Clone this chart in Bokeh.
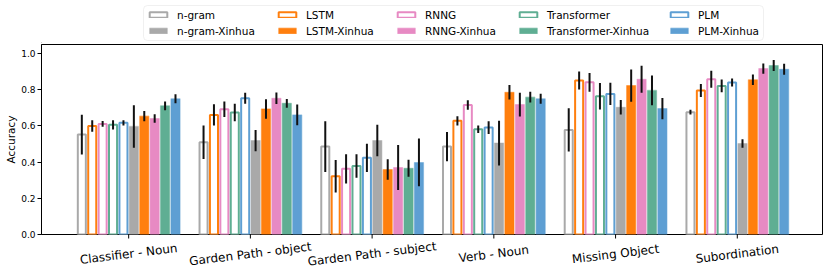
from bokeh.plotting import figure
from bokeh.models import (Range1d, FixedTicker, Legend, LegendItem,
                          ColumnDataSource, BoxAnnotation)
from bokeh.layouts import column
from bokeh.core.properties import value
from bokeh.embed import file_html
from bokeh.resources import INLINE

categories = ["Classifier - Noun", "Garden Path - object", "Garden Path - subject",
              "Verb - Noun", "Missing Object", "Subordination"]

ngram = [0.552, 0.510, 0.486, 0.486, 0.578, 0.676]
ngram_err = [0.110, 0.093, 0.140, 0.081, 0.120, 0.013]
lstm = [0.600, 0.661, 0.322, 0.628, 0.851, 0.796]
lstm_err = [0.032, 0.059, 0.090, 0.026, 0.050, 0.036]
rnng = [0.611, 0.692, 0.363, 0.716, 0.841, 0.858]
rnng_err = [0.016, 0.043, 0.081, 0.026, 0.052, 0.047]
transformer = [0.606, 0.674, 0.379, 0.582, 0.764, 0.821]
transformer_err = [0.026, 0.048, 0.065, 0.021, 0.073, 0.035]
plm = [0.617, 0.753, 0.424, 0.591, 0.777, 0.840]
plm_err = [0.015, 0.031, 0.078, 0.035, 0.061, 0.022]
ngram_xinhua = [0.597, 0.519, 0.519, 0.505, 0.703, 0.503]
ngram_xinhua_err = [0.117, 0.059, 0.087, 0.124, 0.040, 0.023]
lstm_xinhua = [0.654, 0.694, 0.359, 0.786, 0.823, 0.855]
lstm_xinhua_err = [0.028, 0.054, 0.057, 0.040, 0.089, 0.029]
rnng_xinhua = [0.641, 0.753, 0.370, 0.718, 0.858, 0.917]
rnng_xinhua_err = [0.023, 0.032, 0.124, 0.066, 0.075, 0.028]
transformer_xinhua = [0.711, 0.725, 0.366, 0.759, 0.796, 0.934]
transformer_xinhua_err = [0.024, 0.024, 0.047, 0.030, 0.082, 0.031]
plm_xinhua = [0.750, 0.661, 0.398, 0.750, 0.696, 0.913]
plm_xinhua_err = [0.025, 0.057, 0.132, 0.028, 0.059, 0.030]

y_ticks = [0.0, 0.2, 0.4, 0.6, 0.8, 1.0]
y_tick_labels = ["0.0", "0.2", "0.4", "0.6", "0.8", "1.0"]

GRAY = "#a9a9a9"
ORANGE = "#ff7f0e"
PINK = "#e78ac3"
GREEN = "#5fae93"
BLUE = "#5e9fd3"

series = [
    ("n-gram", ngram, ngram_err, GRAY, False),
    ("LSTM", lstm, lstm_err, ORANGE, False),
    ("RNNG", rnng, rnng_err, PINK, False),
    ("Transformer", transformer, transformer_err, GREEN, False),
    ("PLM", plm, plm_err, BLUE, False),
    ("n-gram-Xinhua", ngram_xinhua, ngram_xinhua_err, GRAY, True),
    ("LSTM-Xinhua", lstm_xinhua, lstm_xinhua_err, ORANGE, True),
    ("RNNG-Xinhua", rnng_xinhua, rnng_xinhua_err, PINK, True),
    ("Transformer-Xinhua", transformer_xinhua, transformer_xinhua_err, GREEN, True),
    ("PLM-Xinhua", plm_xinhua, plm_xinhua_err, BLUE, True),
]

FONT = "DejaVu Sans"
W = 830
LEFT, RIGHT = 41, 8
slot = 0.0855
n = len(series)
group_idx = list(range(len(categories)))
xr = Range1d(-0.716, 5.70)


def bar_style(color, filled):
    if filled:
        return dict(fill_color=color, line_color=color, line_alpha=0.45, line_width=1.2)
    return dict(fill_color="white", line_color=color, line_width=2)


# ---------------- main plot ----------------
m = figure(width=W, height=196, output_backend="svg", toolbar_location=None,
           x_range=xr, y_range=Range1d(0, 1.05), x_axis_location=None,
           min_border_left=LEFT, min_border_right=RIGHT, min_border_top=1,
           min_border_bottom=5)
m.background_fill_color = "white"
m.border_fill_color = "white"
m.outline_line_color = "black"
m.outline_line_width = 1
m.outline_line_alpha = 1
for g in m.grid:
    g.visible = False

for i, (name, vals, errs, color, filled) in enumerate(series):
    off = (i - (n - 1) / 2) * slot
    xs = [float(g + off) for g in group_idx]
    lo = [float(v - e) for v, e in zip(vals, errs)]
    hi = [float(v + e) for v, e in zip(vals, errs)]
    src = ColumnDataSource(dict(x=xs, top=list(vals), lo=lo, hi=hi))
    width = 0.075 if filled else 0.066
    m.vbar(x="x", top="top", width=width, source=src, **bar_style(color, filled))
    m.segment(x0="x", y0="lo", x1="x", y1="hi", source=src, line_color="#111111",
              line_width=2)

m.yaxis.ticker = FixedTicker(ticks=y_ticks)
m.yaxis.major_label_overrides = {t: l for t, l in zip(y_ticks, y_tick_labels)}
m.yaxis.major_label_text_font = FONT
m.yaxis.major_label_text_font_size = "9px"
m.yaxis.major_label_text_color = "black"
m.yaxis.major_label_standoff = 2
m.yaxis.major_tick_out = 4
m.yaxis.major_tick_in = 0
m.yaxis.minor_tick_line_color = None
m.yaxis.axis_line_color = "black"
m.yaxis.axis_label = "Accuracy"
m.yaxis.axis_label_text_font = FONT
m.yaxis.axis_label_text_font_size = "10.5px"
m.yaxis.axis_label_text_font_style = "normal"
m.yaxis.axis_label_text_color = "black"
m.yaxis.axis_label_standoff = 1

# ---------------- bottom strip: x ticks and category labels ----------------
BH = 43
b = figure(width=W, height=BH, output_backend="svg", toolbar_location=None,
           x_range=xr, y_range=Range1d(0, BH), x_axis_type=None, y_axis_type=None,
           min_border_left=LEFT, min_border_right=RIGHT, min_border_top=0,
           min_border_bottom=0, styles={"margin-top": "-5px"})
b.outline_line_color = None
b.background_fill_color = None
b.border_fill_color = None
tick_src = ColumnDataSource(dict(x=group_idx, y0=[BH] * len(group_idx),
                                 y1=[BH - 4] * len(group_idx)))
b.segment(x0="x", y0="y0", x1="x", y1="y1", source=tick_src, line_color="black",
          line_width=1)
lab_src = ColumnDataSource(dict(x=group_idx, y=[BH - 19.5] * len(group_idx),
                                text=categories))
b.text(x="x", y="y", text="text", source=lab_src, angle=7, angle_units="deg",
       text_align="center", text_baseline="middle", text_font=value(FONT),
       text_font_size="12px", text_color="black")

# ---------------- top strip: legend ----------------
TH = 43
t = figure(width=W, height=TH, output_backend="svg", toolbar_location=None,
           x_range=Range1d(LEFT, W - RIGHT), y_range=Range1d(0, TH),
           x_axis_type=None, y_axis_type=None, min_border_left=LEFT,
           min_border_right=RIGHT, min_border_top=0, min_border_bottom=0)
t.outline_line_color = None
t.background_fill_color = None
t.border_fill_color = None
t.add_layout(BoxAnnotation(left=143, right=763, bottom=TH - 40, top=TH - 5,
                           fill_color="white", fill_alpha=1, border_radius=4,
                           line_color="#cccccc", line_width=1))

# legend proxies (kept outside the visible strip)
dummy = {}
for name, vals, errs, color, filled in series:
    dummy[name] = t.vbar(x=[-100], top=[0], width=1, **bar_style(color, filled))

legend_columns = [("n-gram", "n-gram-Xinhua", 147),
                  ("LSTM", "LSTM-Xinhua", 276),
                  ("RNNG", "RNNG-Xinhua", 395),
                  ("Transformer", "Transformer-Xinhua", 517),
                  ("PLM", "PLM-Xinhua", 668)]
for top_name, bot_name, x0 in legend_columns:
    lg = Legend(items=[LegendItem(label=top_name, renderers=[dummy[top_name]]),
                       LegendItem(label=bot_name, renderers=[dummy[bot_name]])],
                orientation="vertical", location=(x0 - LEFT, TH - 37),
                label_text_font=FONT, label_text_font_size="10.5px",
                label_text_color="black", label_height=13,
                glyph_width=22, glyph_height=7, label_standoff=8, spacing=3,
                padding=0, margin=0, border_line_color=None,
                background_fill_alpha=0)
    t.add_layout(lg, "center")

layout = column(t, m, b, spacing=0)
open("out.html", "w").write(file_html(layout, INLINE))
